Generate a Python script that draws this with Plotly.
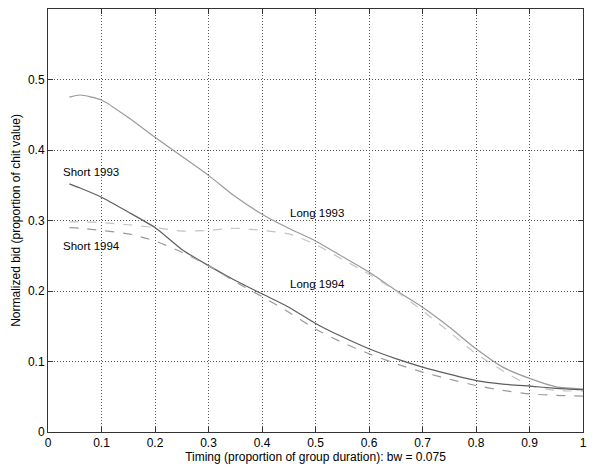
import plotly.graph_objs as go

# timing grid (proportion of group duration)
x = [0.04, 0.06, 0.1, 0.15, 0.2, 0.25, 0.3, 0.35, 0.4, 0.45, 0.5,
     0.55, 0.6, 0.65, 0.7, 0.75, 0.8, 0.85, 0.9, 0.95, 1.0]

long_1993 = [0.475, 0.478, 0.471, 0.446, 0.418, 0.391, 0.364, 0.334, 0.309, 0.289, 0.271,
             0.249, 0.227, 0.201, 0.177, 0.149, 0.118, 0.092, 0.076, 0.064, 0.061]
long_1994 = [0.298, 0.298, 0.297, 0.294, 0.290, 0.285, 0.286, 0.289, 0.286, 0.281, 0.266,
             0.245, 0.224, 0.200, 0.172, 0.142, 0.111, 0.087, 0.066, 0.059, 0.058]
short_1993 = [0.352, 0.346, 0.333, 0.312, 0.290, 0.259, 0.236, 0.215, 0.196, 0.177, 0.154,
              0.135, 0.118, 0.104, 0.092, 0.082, 0.073, 0.068, 0.065, 0.062, 0.060]
short_1994 = [0.290, 0.289, 0.286, 0.281, 0.271, 0.255, 0.236, 0.213, 0.192, 0.170, 0.146,
              0.127, 0.111, 0.097, 0.085, 0.075, 0.066, 0.059, 0.054, 0.052, 0.051]

series = [
    ('Long 1993', long_1993, '#9a9a9a', 'solid'),
    ('Long 1994', long_1994, '#c4c4c4', 'dash'),
    ('Short 1993', short_1993, '#5e5e5e', 'solid'),
    ('Short 1994', short_1994, '#9a9a9a', 'dash'),
]

# label anchors (x, y) in data units
labels = {
    'Short 1993': (0.025, 0.369),
    'Short 1994': (0.025, 0.264),
    'Long 1993': (0.449, 0.311),
    'Long 1994': (0.449, 0.210),
}

traces = []
for name, ys, color, dash in series:
    traces.append(go.Scatter(
        x=x, y=ys, mode='lines', name=name,
        line=dict(color=color, width=1.2, dash=dash, shape='spline', smoothing=0.6),
    ))

font = dict(family='Liberation Sans, Arial, sans-serif', size=12, color='black')
label_font = dict(font, size=11.5)

axis_common = dict(
    showgrid=True, gridcolor='#555', griddash='1px,2px', gridwidth=1,
    showline=True, linecolor='#333', linewidth=1, mirror='ticks',
    ticks='inside', ticklen=5, tickcolor='#333', zeroline=False,
    tickfont=font, automargin=False,
)

layout = go.Layout(
    width=600, height=473,
    margin=dict(l=48, r=17, t=9, b=41),
    plot_bgcolor='white', paper_bgcolor='white',
    showlegend=False, font=font,
    xaxis=dict(axis_common, range=[0, 1],
               tickvals=[i / 10 for i in range(11)],
               ticktext=['0', '0.1', '0.2', '0.3', '0.4', '0.5', '0.6', '0.7', '0.8', '0.9', '1'],
               title=dict(text='Timing (proportion of group duration): bw = 0.075',
                          font=font, standoff=2)),
    yaxis=dict(axis_common, range=[0, 0.6],
               tickvals=[0, 0.1, 0.2, 0.3, 0.4, 0.5],
               ticktext=['0', '0.1', '0.2', '0.3', '0.4', '0.5'],
               title=dict(text='Normalized bid (proportion of chit value)',
                          font=font, standoff=4)),
    annotations=[dict(x=lx, y=ly, text=t, showarrow=False, xanchor='left',
                      yanchor='middle', font=label_font)
                 for t, (lx, ly) in labels.items()],
)

fig = go.Figure(data=traces, layout=layout)
fig.write_html('out.html', config={'displayModeBar': False},
               post_script="document.body.style.margin='0';")
